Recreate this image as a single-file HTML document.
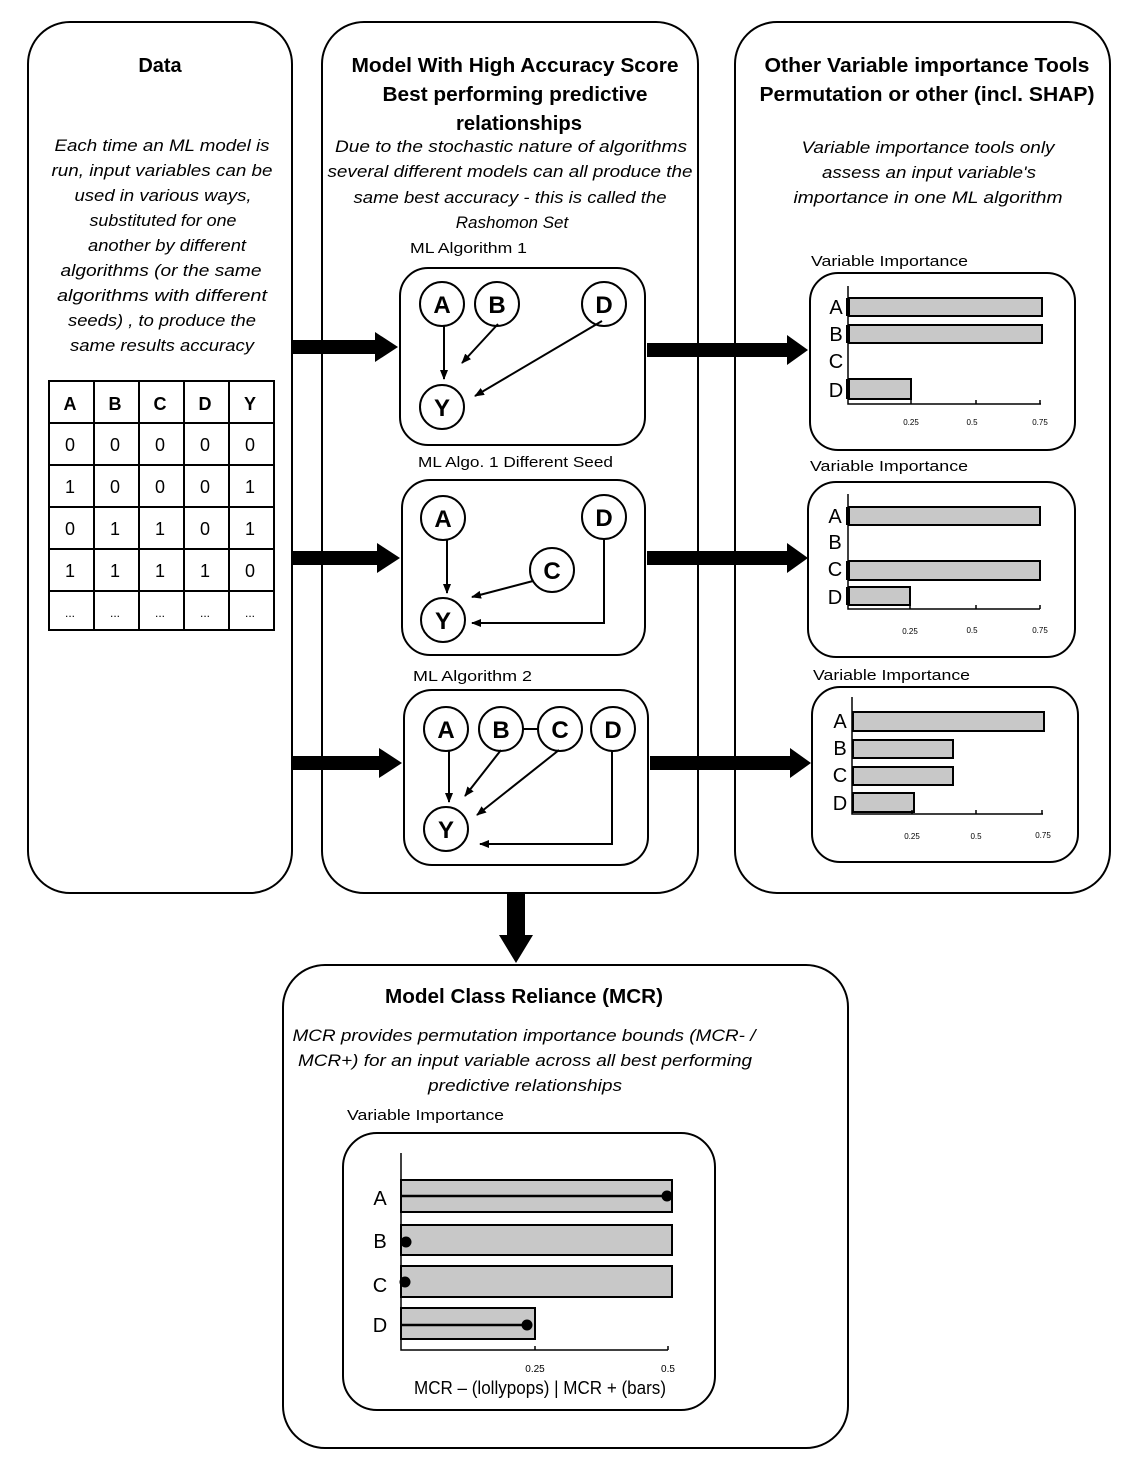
<!DOCTYPE html>
<html><head><meta charset="utf-8"><style>
html,body{margin:0;padding:0;background:#fff;}
svg{display:block;}
text{font-family:"Liberation Sans",sans-serif;fill:#000;}
.t{font-weight:bold;font-size:20px;text-anchor:middle;}
.i{font-style:italic;font-size:17px;text-anchor:middle;}
.s{font-size:15px;}
.n{font-weight:bold;font-size:24px;text-anchor:middle;}
.l{font-size:20px;text-anchor:middle;}
.k{font-size:8px;text-anchor:middle;}
.c{font-size:18px;text-anchor:middle;}
</style></head><body>
<svg width="1132" height="1478" viewBox="0 0 1132 1478" xmlns="http://www.w3.org/2000/svg">
<defs>
<marker id="ah" markerWidth="10" markerHeight="10" refX="9" refY="5" orient="auto" markerUnits="userSpaceOnUse"><path d="M0,1 L10,5 L0,9 Z" fill="#000"/></marker>
</defs>
<g fill="none" stroke="#000" stroke-width="2">
<rect x="28" y="22" width="264" height="871" rx="42"/>
<rect x="322" y="22" width="376" height="871" rx="42"/>
<rect x="735" y="22" width="375" height="871" rx="42"/>
<rect x="283" y="965" width="565" height="483" rx="42"/>
<rect x="400" y="268" width="245" height="177" rx="28"/>
<rect x="402" y="480" width="243" height="175" rx="28"/>
<rect x="404" y="690" width="244" height="175" rx="28"/>
<rect x="810" y="273" width="265" height="177" rx="28"/>
<rect x="808" y="482" width="267" height="175" rx="28"/>
<rect x="812" y="687" width="266" height="175" rx="28"/>
<rect x="343" y="1133" width="372" height="277" rx="34"/>
</g>
<!-- titles -->
<text class="t" x="160" y="72">Data</text>
<text class="t" x="515" y="72" textLength="327" lengthAdjust="spacingAndGlyphs">Model With High Accuracy Score</text>
<text class="t" x="515" y="101" textLength="265" lengthAdjust="spacingAndGlyphs">Best performing predictive</text>
<text class="t" x="519" y="130" textLength="126" lengthAdjust="spacingAndGlyphs">relationships</text>
<text class="t" x="927" y="72" textLength="325" lengthAdjust="spacingAndGlyphs">Other Variable importance Tools</text>
<text class="t" x="927" y="101" textLength="335" lengthAdjust="spacingAndGlyphs">Permutation or other (incl. SHAP)</text>
<text class="t" x="524" y="1003" textLength="278" lengthAdjust="spacingAndGlyphs">Model Class Reliance (MCR)</text>
<!-- italics -->
<g class="i">
<text x="162" y="151" textLength="215" lengthAdjust="spacingAndGlyphs">Each time an ML model is</text>
<text x="162" y="176" textLength="221" lengthAdjust="spacingAndGlyphs">run, input variables can be</text>
<text x="163" y="201" textLength="177" lengthAdjust="spacingAndGlyphs">used in various ways,</text>
<text x="163" y="226" textLength="147" lengthAdjust="spacingAndGlyphs">substituted for one</text>
<text x="167" y="251" textLength="158" lengthAdjust="spacingAndGlyphs">another by different</text>
<text x="161" y="276" textLength="201" lengthAdjust="spacingAndGlyphs">algorithms (or the same</text>
<text x="162" y="301" textLength="210" lengthAdjust="spacingAndGlyphs">algorithms with different</text>
<text x="162" y="326" textLength="188" lengthAdjust="spacingAndGlyphs">seeds) , to produce the</text>
<text x="162" y="351" textLength="184" lengthAdjust="spacingAndGlyphs">same results accuracy</text>
<text x="511" y="152" textLength="352" lengthAdjust="spacingAndGlyphs">Due to the stochastic nature of algorithms</text>
<text x="510" y="177" textLength="365" lengthAdjust="spacingAndGlyphs">several different models can all produce the</text>
<text x="510" y="203" textLength="313" lengthAdjust="spacingAndGlyphs">same best accuracy - this is called the</text>
<text x="512" y="228">Rashomon Set</text>
<text x="928" y="153" textLength="253" lengthAdjust="spacingAndGlyphs">Variable importance tools only</text>
<text x="929" y="178" textLength="214" lengthAdjust="spacingAndGlyphs">assess an input variable's</text>
<text x="928" y="203" textLength="269" lengthAdjust="spacingAndGlyphs">importance in one ML algorithm</text>
<text x="524" y="1041" textLength="463" lengthAdjust="spacingAndGlyphs">MCR provides permutation importance bounds (MCR- /</text>
<text x="525" y="1066" textLength="454" lengthAdjust="spacingAndGlyphs">MCR+) for an input variable across all best performing</text>
<text x="525" y="1091" textLength="194" lengthAdjust="spacingAndGlyphs">predictive relationships</text>
</g>
<g class="s">
<text x="410" y="253" textLength="117" lengthAdjust="spacingAndGlyphs">ML Algorithm 1</text>
<text x="418" y="467" textLength="195" lengthAdjust="spacingAndGlyphs">ML Algo. 1 Different Seed</text>
<text x="413" y="681" textLength="119" lengthAdjust="spacingAndGlyphs">ML Algorithm 2</text>
<text x="811" y="266" textLength="157" lengthAdjust="spacingAndGlyphs">Variable Importance</text>
<text x="810" y="471" textLength="158" lengthAdjust="spacingAndGlyphs">Variable Importance</text>
<text x="813" y="680" textLength="157" lengthAdjust="spacingAndGlyphs">Variable Importance</text>
<text x="347" y="1120" textLength="157" lengthAdjust="spacingAndGlyphs">Variable Importance</text>
</g>
<!-- table -->
<g stroke="#000" stroke-width="2" fill="none">
<rect x="49" y="381" width="225" height="249"/>
<path d="M94,381V630M139,381V630M184,381V630M229,381V630M49,423H274M49,465H274M49,507H274M49,549H274M49,591H274"/>
</g>
<g class="c">
<text x="70" y="410" font-weight="bold">A</text><text x="115" y="410" font-weight="bold">B</text><text x="160" y="410" font-weight="bold">C</text><text x="205" y="410" font-weight="bold">D</text><text x="250" y="410" font-weight="bold">Y</text>
<text x="70" y="451">0</text><text x="115" y="451">0</text><text x="160" y="451">0</text><text x="205" y="451">0</text><text x="250" y="451">0</text>
<text x="70" y="493">1</text><text x="115" y="493">0</text><text x="160" y="493">0</text><text x="205" y="493">0</text><text x="250" y="493">1</text>
<text x="70" y="535">0</text><text x="115" y="535">1</text><text x="160" y="535">1</text><text x="205" y="535">0</text><text x="250" y="535">1</text>
<text x="70" y="577">1</text><text x="115" y="577">1</text><text x="160" y="577">1</text><text x="205" y="577">1</text><text x="250" y="577">0</text>
<text x="70" y="617" font-size="12">...</text><text x="115" y="617" font-size="12">...</text><text x="160" y="617" font-size="12">...</text><text x="205" y="617" font-size="12">...</text><text x="250" y="617" font-size="12">...</text>
</g>
<!-- big arrows -->
<g fill="#000">
<path d="M292,340H375V332L398,347L375,362V354H292Z"/>
<path d="M292,551H377V543L400,558L377,573V565H292Z"/>
<path d="M292,756H379V748L402,763L379,778V770H292Z"/>
<path d="M647,343H787V335L808,350L787,365V357H647Z"/>
<path d="M647,551H787V543L808,558L787,573V565H647Z"/>
<path d="M650,756H790V748L811,763L790,778V770H650Z"/>
<path d="M507,893H525V935H533L516,963L499,935H507Z"/>
</g>
<!-- graphs -->
<g fill="none" stroke="#000" stroke-width="2">
<circle cx="442" cy="304" r="22"/><circle cx="497" cy="304" r="22"/><circle cx="604" cy="304" r="22"/><circle cx="442" cy="407" r="22"/>
<circle cx="443" cy="518" r="22"/><circle cx="604" cy="517" r="22"/><circle cx="552" cy="570" r="22"/><circle cx="443" cy="620" r="22"/>
<circle cx="446" cy="729" r="22"/><circle cx="501" cy="729" r="22"/><circle cx="560" cy="729" r="22"/><circle cx="613" cy="729" r="22"/><circle cx="446" cy="829" r="22"/>
</g>
<g stroke="#000" stroke-width="2" fill="none" marker-end="url(#ah)">
<path d="M444,326V379"/><path d="M498,324L462,363"/><path d="M602,321L475,396"/>
<path d="M447,540V593"/><path d="M533,581L472,597"/><path d="M604,539V623H472"/>
<path d="M449,751V802"/><path d="M501,750L465,796"/><path d="M559,750L477,815"/><path d="M612,751V844H480"/>
</g>
<path d="M523,729H538" stroke="#000" stroke-width="2"/>
<g class="n">
<text x="442" y="313">A</text><text x="497" y="313">B</text><text x="604" y="313">D</text><text x="442" y="416">Y</text>
<text x="443" y="527">A</text><text x="604" y="526">D</text><text x="552" y="579">C</text><text x="443" y="629">Y</text>
<text x="446" y="738">A</text><text x="501" y="738">B</text><text x="560" y="738">C</text><text x="613" y="738">D</text><text x="446" y="838">Y</text>
</g>
<!-- bar charts -->
<g fill="#c8c8c8" stroke="#000" stroke-width="2">
<rect x="849" y="298" width="193" height="18"/><rect x="849" y="325" width="193" height="18"/><rect x="849" y="379" width="62" height="20"/>
<rect x="849" y="507" width="191" height="18"/><rect x="849" y="561" width="191" height="19"/><rect x="849" y="587" width="61" height="18"/>
<rect x="853" y="712" width="191" height="19"/><rect x="853" y="740" width="100" height="18"/><rect x="853" y="767" width="100" height="18"/><rect x="853" y="793" width="61" height="19"/>
<rect x="401" y="1180" width="271" height="32"/><rect x="401" y="1225" width="271" height="30"/><rect x="401" y="1266" width="271" height="31"/><rect x="401" y="1308" width="134" height="31"/>
</g>
<g stroke="#000" fill="none">
<path d="M848,286V404H1041M911,400V404M976,400V404M1040,400V404" stroke-width="1.5"/>
<path d="M848,298V316M848,325V343M848,379V399" stroke-width="4"/>
<path d="M848,494V609H1040M910,605V609M976,605V609M1040,605V609" stroke-width="1.5"/>
<path d="M848,507V525M848,561V580M848,587V605" stroke-width="4"/>
<path d="M852,697V814H1043M912,810V814M976,810V814M1042,810V814" stroke-width="1.5"/>
<path d="M401,1153V1350H668M535,1346V1350M668,1346V1350" stroke-width="1.5"/>
<path d="M401,1196H667M401,1325H527" stroke-width="2.5"/>
</g>
<g fill="#000"><circle cx="667" cy="1196" r="5.5"/><circle cx="406" cy="1242" r="5.5"/><circle cx="405" cy="1282" r="5.5"/><circle cx="527" cy="1325" r="5.5"/></g>
<g class="l">
<text x="836" y="314">A</text><text x="836" y="341">B</text><text x="836" y="368">C</text><text x="836" y="397">D</text>
<text x="835" y="523">A</text><text x="835" y="549">B</text><text x="835" y="576">C</text><text x="835" y="604">D</text>
<text x="840" y="728">A</text><text x="840" y="755">B</text><text x="840" y="782">C</text><text x="840" y="810">D</text>
<text x="380" y="1205">A</text><text x="380" y="1248">B</text><text x="380" y="1292">C</text><text x="380" y="1332">D</text>
</g>
<g class="k">
<text x="911" y="425">0.25</text><text x="972" y="425">0.5</text><text x="1040" y="425">0.75</text>
<text x="910" y="634">0.25</text><text x="972" y="633">0.5</text><text x="1040" y="633">0.75</text>
<text x="912" y="839">0.25</text><text x="976" y="839">0.5</text><text x="1043" y="838">0.75</text>
<text x="535" y="1372" font-size="10">0.25</text><text x="668" y="1372" font-size="10">0.5</text>
</g>
<text x="540" y="1394" class="c" font-size="15" textLength="252" lengthAdjust="spacingAndGlyphs">MCR – (lollypops) | MCR + (bars)</text>
</svg>
</body></html>
